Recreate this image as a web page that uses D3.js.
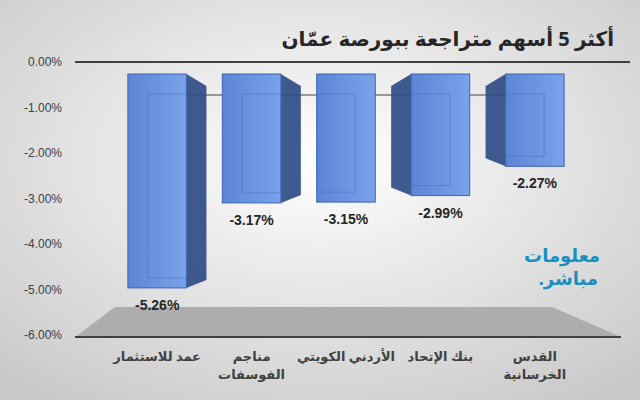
<!DOCTYPE html>
<html><head><meta charset="utf-8">
<script src="https://cdn.jsdelivr.net/npm/d3@7"></script>
<style>body{margin:0}svg{display:block}</style>
</head><body>
<div id="chart"></div>
<script>
// Chart data
const categories = [["عمد للاستثمار"], ["مناجم", "الفوسفات"], ["الأردني الكويتي"], ["بنك الإتحاد"], ["القدس", "الخرسانية"]];
const values = [-5.26, -3.17, -3.15, -2.99, -2.27];
const ticks = [0, -1, -2, -3, -4, -5, -6];

const width = 640, height = 400;
const svg = d3.select("#chart").append("svg").attr("width", width).attr("height", height);
const defs = svg.append("defs");

// Background gradient
const bg = defs.append("radialGradient").attr("id", "bg").attr("cx", "50%").attr("cy", "40%").attr("r", "75%");
bg.append("stop").attr("offset", "0%").attr("stop-color", "#ffffff");
bg.append("stop").attr("offset", "100%").attr("stop-color", "#c8c8c8");
svg.append("rect").attr("width", width).attr("height", height).attr("fill", "url(#bg)");

const front = defs.append("linearGradient").attr("id", "front").attr("x1", 0).attr("x2", 1);
front.append("stop").attr("offset", "0%").attr("stop-color", "#5b86d6");
front.append("stop").attr("offset", "100%").attr("stop-color", "#7ba2ea");

// Axis scale (labels) and bar scale (front face)
const yAxis = d3.scaleLinear().domain([0, -6]).range([62, 335]);
const yBar = d3.scaleLinear().domain([0, -6]).range([74, 318]);
const x = d3.scaleBand().domain(d3.range(5)).range([92, 600]).padding(0.38);

// Floor
svg.append("polygon").attr("points", "115,307 552,307 621,337 75,337").attr("fill", "#adadad");

// Y labels
svg.selectAll("text.tick").data(ticks).enter().append("text")
  .attr("x", 62).attr("y", d => yAxis(d) + 4).attr("text-anchor", "end")
  .attr("font-family", "Liberation Sans, Arial").attr("font-size", 12).attr("fill", "#404040")
  .text(d => d.toFixed(2) + "%");

// Top line, bottom line and back line
svg.append("line").attr("x1", 75).attr("x2", 630).attr("y1", 62).attr("y2", 62).attr("stroke", "#404040").attr("stroke-width", 2);
svg.append("line").attr("x1", 75).attr("x2", 621).attr("y1", 337).attr("y2", 337).attr("stroke", "#404040").attr("stroke-width", 2);
svg.append("line").attr("x1", 140).attr("x2", 560).attr("y1", 95).attr("y2", 95).attr("stroke", "#404040").attr("stroke-width", 1.2);

// Bars
const depth = 20, drop = 12;
values.forEach((v, i) => {
  const x0 = x(i), w = x.bandwidth();
  const top = yBar(0), bot = yBar(v);
  const cx = x0 + w / 2;
  const dir = cx < 320 ? 1 : -1;
  const g = svg.append("g");
  // side face
  const sx = dir > 0 ? x0 + w : x0;
  if (Math.abs(cx - 320) > 30) {
    g.append("polygon")
      .attr("points", [[sx, top], [sx + dir * depth, top + drop], [sx + dir * depth, bot - 8], [sx, bot]].map(p => p.join(",")).join(" "))
      .attr("fill", "#2f4c84").attr("opacity", 0.92);
  }
  g.append("rect").attr("x", x0).attr("y", top).attr("width", w).attr("height", bot - top)
    .attr("fill", "url(#front)").attr("stroke", "#3d63b0").attr("stroke-width", 1);
  // inner back edges
  g.append("rect").attr("x", x0 + (dir > 0 ? 20 : 0)).attr("y", top + 20).attr("width", w - 20).attr("height", bot - top - 30)
    .attr("fill", "none").attr("stroke", "#4a72c0").attr("stroke-width", 0.8).attr("opacity", 0.7);
  svg.append("text").attr("x", cx).attr("y", bot + 22).attr("text-anchor", "middle")
    .attr("font-family", "Liberation Sans, Arial").attr("font-weight", "bold").attr("font-size", 14).attr("fill", "#262626")
    .text(v.toFixed(2) + "%");
});

// Category labels
categories.forEach((lines, i) => {
  const t = svg.append("text").attr("x", x(i) + x.bandwidth() / 2).attr("y", 361).attr("text-anchor", "middle")
    .attr("font-family", "Noto Sans, DejaVu Sans").attr("font-weight", "bold").attr("font-size", 13).attr("fill", "#404040")
    .attr("direction", "rtl");
  lines.forEach((l, j) => t.append("tspan").attr("x", x(i) + x.bandwidth() / 2).attr("dy", j ? 18 : 0).text(l));
});

// Title
svg.append("text").attr("x", 614).attr("y", 46).attr("text-anchor", "start").attr("direction", "rtl")
  .attr("font-family", "Noto Sans, DejaVu Sans").attr("font-weight", "bold").attr("font-size", 20).attr("fill", "#262626")
  .text("أكثر 5 أسهم متراجعة ببورصة عمّان");

// Logo
svg.append("text").attr("x", 600).attr("y", 262).attr("text-anchor", "start").attr("direction", "rtl")
  .attr("font-family", "Noto Sans, DejaVu Sans").attr("font-weight", "bold").attr("font-size", 18).attr("fill", "#1a8fbf").text("معلومات");
svg.append("text").attr("x", 598).attr("y", 285).attr("text-anchor", "start").attr("direction", "rtl")
  .attr("font-family", "Noto Sans, DejaVu Sans").attr("font-weight", "bold").attr("font-size", 18).attr("fill", "#1a8fbf").text("مباشر.");
</script>
</body></html>
